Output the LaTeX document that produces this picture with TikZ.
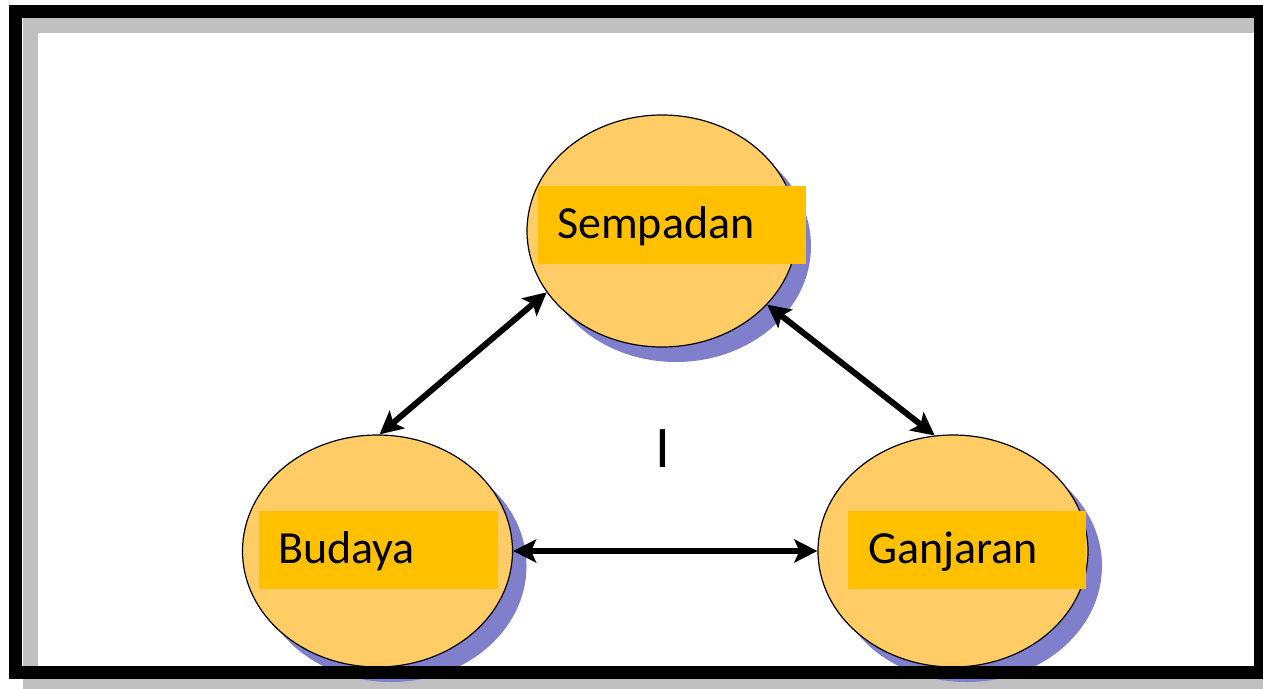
\documentclass[tikz,border=0pt]{standalone}
\usepackage{fontspec}
\setmainfont{Carlito}
\usetikzlibrary{shapes.geometric,arrows.meta,shadows}
\definecolor{ellfill}{HTML}{FFCC66}
\definecolor{labfill}{HTML}{FFC000}
\definecolor{shblue}{HTML}{7F7FCC}
\definecolor{framegray}{HTML}{C0C0C0}
\tikzset{
 bubble/.style={ellipse, draw=black, line width=1.2pt, fill=ellfill, minimum width=270pt, minimum height=232pt, inner sep=0pt,
   general shadow={fill=shblue, shadow xshift=14pt, shadow yshift=-15pt}},
 lab/.style={rectangle, fill=labfill, anchor=north west, minimum height=78pt, inner ysep=0pt, inner xsep=19pt,
   align=left, font=\fontsize{46}{54}\selectfont, text height=35pt, text depth=9pt},
 link/.style={line width=6pt, {Stealth[length=23pt,width=23pt,inset=5pt]}-{Stealth[length=23pt,width=23pt,inset=5pt]}}
}
\begin{document}
\begin{tikzpicture}[x=1pt,y=-1pt]
\useasboundingbox (0,0) rectangle (1263,688);
\begin{scope}
\clip (0,0) rectangle (1263,688);
\draw[framegray, line width=15pt] (30,25.5) rectangle (1290,685.5);
\end{scope}
\node[bubble] (sem) at (662,231) {};
\node[bubble] (bud) at (377.5,551) {};
\node[bubble] (gan) at (953,551) {};
\node[lab, text width=230pt] (semlab) at (538,186) {Sempadan};
\node[lab, text width=201pt] (budlab) at (259,511) {Budaya};
\node[lab, text width=198pt, inner xsep=20pt] (ganlab) at (848,511) {Ganjaran};
\draw[link] (sem.208) -- (bud.89);
\draw[link] (sem.325) -- (gan.99.5);
\draw[link] (bud.east) -- (gan.west);
\node[inner sep=0pt, font=\fontsize{59}{60}\selectfont] (mark) at (663,449) {I};
\begin{scope}
\clip (0,0) rectangle (1263,688);
\draw[black, line width=13pt] (15,11.5) rectangle (1260.5,672);
\end{scope}
\end{tikzpicture}
\end{document}
